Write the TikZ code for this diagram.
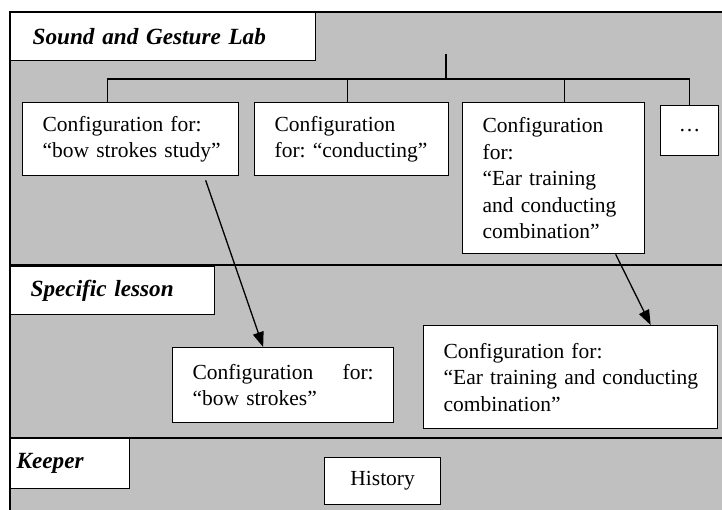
\documentclass[tikz,border=0pt]{standalone}
\usepackage{fontspec}
\setmainfont{Liberation Serif}
\usetikzlibrary{positioning,arrows.meta,calc}
\definecolor{panel}{HTML}{C0C0C0}
\hyphenpenalty=10000
\exhyphenpenalty=10000

\tikzset{
  cfgbox/.style={draw, fill=white, line width=1.3pt, anchor=north west,
    inner xsep=20pt, inner ysep=0pt, align=left,
    font=\fontsize{21.5}{26.5}\selectfont},
  laybox/.style={draw, fill=white, line width=1.3pt, anchor=north west,
    inner ysep=0pt, align=left,
    font=\fontsize{23.2}{26}\selectfont\bfseries\itshape},
  arr/.style={line width=1.3pt, -{Triangle[length=15pt,width=11pt]}},
  tree/.style={line width=1.3pt}
}

\begin{document}
\begin{tikzpicture}[x=1pt,y=-1pt]
\clip (0,0) rectangle (722,509);
\fill[white] (0,0) rectangle (722,509);
% layers
\fill[panel] (10,12) rectangle (740,520);
\draw[line width=1.6pt] (740,12) -- (10,12) -- (10,520);
\draw[line width=1.4pt] (10,265) -- (740,265);
\draw[line width=1.4pt] (10,438) -- (740,438);

\node[laybox, text width=261pt, inner xsep=22pt, minimum height=48pt] (lab) at (10,12) {Sound~and~Gesture~Lab};
\node[laybox, text width=164pt, inner xsep=20pt, minimum height=48pt] (lesson) at (10,266) {Specific~lesson};
\node[laybox, text width=107pt, inner xsep=6pt, minimum height=50pt] (keeper) at (10,438) {Keeper};

% configurations
\node[cfgbox, text width=176pt, minimum height=73pt] (bow) at (22,102) {Configuration~for:\\``bow~strokes~study''};
\node[cfgbox, text width=154pt, minimum height=73pt] (cond) at (254,102) {Configuration\\for:~``conducting''};
\node[cfgbox, text width=142pt, minimum height=151pt] (ear) at (462,102) {Configuration\\for:\\``Ear~training\\and~conducting\\combination''};
\node[cfgbox, inner xsep=0pt, align=center, minimum width=58pt, minimum height=50pt] (dots) at (660,105) {\dots};

\coordinate (root) at (446,54);
\draw[tree] (root) -- ++(0,25) coordinate (bus);
\draw[tree] ([xshift=-23.5pt]bow.north) |- (bus) -| (dots.north);
\draw[tree] ([xshift=-4pt]cond.north) -- ([xshift=-4pt]cond.north |- bus);
\draw[tree] ([xshift=11pt]ear.north) -- ([xshift=11pt]ear.north |- bus);

% lesson
\node[cfgbox, text width=181pt, minimum height=75pt] (bowl) at (172,347) {Configuration\hfill for:\\``bow~strokes''};
\node[cfgbox, text width=254pt, minimum height=103pt] (earl) at (423,325) {Configuration~for:\\``Ear~training~and~conducting\\combination''};

\draw[arr] ([xshift=75pt,yshift=-4pt]bow.south) -- ([xshift=-20pt]bowl.north);
\draw[arr] ([xshift=62pt]ear.south) -- ([xshift=80pt]earl.north);

% keeper
\node[cfgbox, inner xsep=0pt, align=center, minimum width=116pt, minimum height=47pt] (hist) at (324,457) {History};
\end{tikzpicture}
\end{document}
